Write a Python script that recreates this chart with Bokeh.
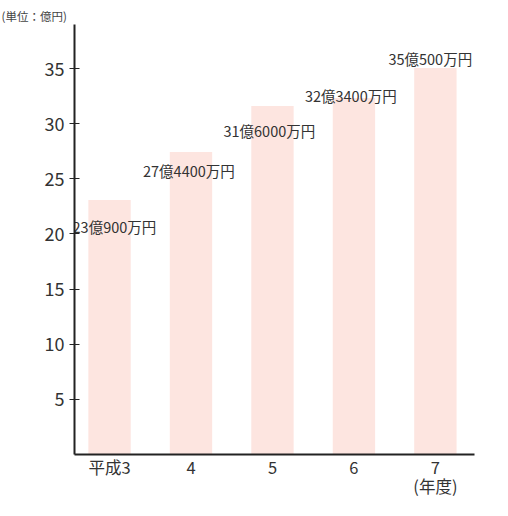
from bokeh.plotting import figure
from bokeh.models import ColumnDataSource, FixedTicker, Range1d
from bokeh.core.properties import value
from bokeh.embed import file_html
from bokeh.resources import INLINE

# data
years = ["平成3", "4", "5", "6", "7"]
amounts = [23.09, 27.44, 31.60, 32.34, 35.05]
amount_labels = ["23億900万円", "27億4400万円", "31億6000万円", "32億3400万円", "35億500万円"]
y_ticks = [5, 10, 15, 20, 25, 30, 35]
unit_text = "(単位：億円)"
year_unit_text = "(年度)"

FONT = "Noto Sans CJK JP"
xs = list(range(len(years)))

# label pixel offsets (style)
label_dx = [-37, -48, -49, -49, -47]
label_dy = [27, 19, 24, -2, -10]

p = figure(width=492, height=500, output_backend="svg", toolbar_location=None,
           x_range=Range1d(-0.43, 4.48), y_range=Range1d(0, 39),
           min_border_left=74, min_border_right=18, min_border_top=24, min_border_bottom=30)
p.background_fill_color = "white"
p.border_fill_color = "white"
p.outline_line_color = None
p.xgrid.visible = False
p.ygrid.visible = False

p.title.text = unit_text
p.title.align = "left"
p.title.offset = -73
p.title.text_font = FONT
p.title.text_font_size = "11.5px"
p.title.text_font_style = "normal"
p.title.text_color = "#444444"
p.title.standoff = 2

src = ColumnDataSource(dict(x=xs, top=amounts, label=amount_labels,
                            dx=label_dx, dy=label_dy))
p.vbar(x="x", top="top", bottom=0, width=0.52, source=src,
       fill_color="#fde5e0", line_color=None)

p.text(x="x", y="top", text="label", source=src, x_offset="dx", y_offset="dy",
       text_font=value(FONT), text_font_size="14.5px", text_color="#333333",
       text_align="left", text_baseline="middle")

# axes
tick_texts = years[:-1] + [years[-1] + "\n" + year_unit_text]
xa = p.xaxis[0]
xa.ticker = FixedTicker(ticks=xs)
xa.major_label_overrides = {i: t for i, t in zip(xs, tick_texts)}
xa.major_tick_line_color = None
xa.major_tick_in = 0
xa.major_tick_out = 0
xa.minor_tick_line_color = None
xa.axis_line_color = "#222222"
xa.axis_line_width = 2
xa.major_label_text_font = FONT
xa.major_label_text_font_size = "16.5px"
xa.major_label_text_color = "#333333"
xa.major_label_text_line_height = 0.8
xa.major_label_standoff = 0

ya = p.yaxis[0]
ya.ticker = FixedTicker(ticks=y_ticks)
ya.major_tick_in = 5
ya.major_tick_out = 5
ya.minor_tick_line_color = None
ya.axis_line_color = "#222222"
ya.axis_line_width = 2
ya.major_tick_line_color = "#222222"
ya.major_label_text_font = FONT
ya.major_label_text_font_size = "18px"
ya.major_label_text_color = "#333333"
ya.major_label_standoff = 5

open("out.html", "w").write(file_html(p, INLINE))
